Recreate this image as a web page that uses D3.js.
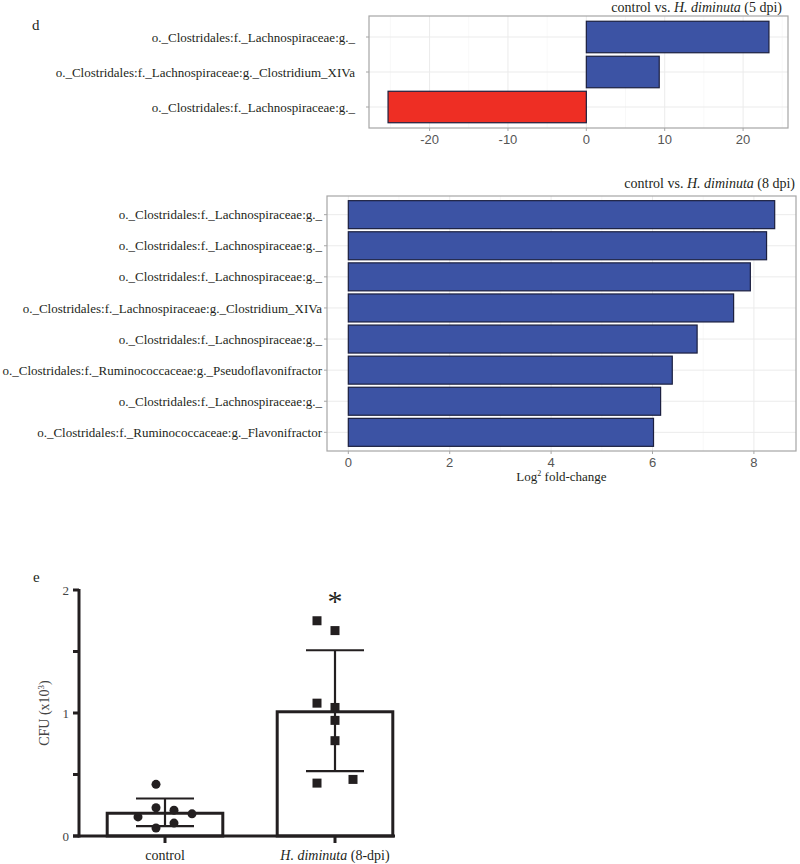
<!DOCTYPE html>
<html>
<head>
<meta charset="utf-8">
<script src="https://cdn.jsdelivr.net/npm/d3@7"></script>
<style>
  body { margin: 0; background: #fff; }
  svg { display: block; }
</style>
</head>
<body>
<svg id="chart" width="800" height="864"></svg>
<script>
// ---------- DATA ----------
const taxa5 = [
  "o._Clostridales:f._Lachnospiraceae:g._",
  "o._Clostridales:f._Lachnospiraceae:g._Clostridium_XIVa",
  "o._Clostridales:f._Lachnospiraceae:g._"
];
const lfc5 = [23.3, 9.3, -25.3];

const taxa8 = [
  "o._Clostridales:f._Lachnospiraceae:g._",
  "o._Clostridales:f._Lachnospiraceae:g._",
  "o._Clostridales:f._Lachnospiraceae:g._",
  "o._Clostridales:f._Lachnospiraceae:g._Clostridium_XIVa",
  "o._Clostridales:f._Lachnospiraceae:g._",
  "o._Clostridales:f._Ruminococcaceae:g._Pseudoflavonifractor",
  "o._Clostridales:f._Lachnospiraceae:g._",
  "o._Clostridales:f._Ruminococcaceae:g._Flavonifractor"
];
const lfc8 = [8.41, 8.25, 7.93, 7.60, 6.88, 6.39, 6.16, 6.02];

const ticks5 = [-20, -10, 0, 10, 20];
const ticks8 = [0, 2, 4, 6, 8];

const groups = ["control", "H. diminuta (8-dpi)"];
const groupMeans = [0.185, 1.01];
const groupSDlow = [0.08, 0.528];
const groupSDhigh = [0.305, 1.51];
const controlCFU = [0.42, 0.23, 0.21, 0.155, 0.18, 0.065, 0.105];
const controlSlot = [-0.5, -0.5, 0.5, -1.5, 1.5, -0.5, 0.5];
const hdimCFU = [1.75, 1.67, 1.08, 1.045, 0.94, 0.775, 0.43, 0.46];
const hdimSlot = [-1, 0, -1, 0, 0, 0, -1, 1];
const cfuTicks = [0, 1, 2];
const cfuMinorTicks = [0.5, 1.5];

// ---------- STYLE ----------
const svg = d3.select("#chart");
const serif = "'Liberation Serif', 'Times New Roman', serif";
const sans = "'Liberation Sans', Arial, sans-serif";
const blue = "#3c53a4";
const red = "#ee2e24";
const barStroke = "#1b1f3f";
const gridCol = "#ebebeb";
const borderCol = "#a6a6a6";
const tickTextCol = "#555";
const textCol = "#231f20";

function lfcPanel(opts) {
  const { taxa, values, ticks, left, right, top, bottom, title, titleX, titleY, labelGap, xlabel } = opts;
  const g = svg.append("g");
  const ext = d3.extent([0, ...values]);
  const pad = (ext[1] - ext[0]) * 0.05;
  const x = d3.scaleLinear().domain([ext[0] - pad, ext[1] + pad]).range([left, right]);
  const n = taxa.length;
  const y = d3.scaleLinear().domain([0.4, n + 0.6]).range([top, bottom]);

  // minor grid
  const minor = [];
  const step = ticks[1] - ticks[0];
  for (let v = ticks[0] - step / 2; v <= x.domain()[1]; v += step) {
    if (v >= x.domain()[0]) minor.push(v);
  }
  g.selectAll(".minor").data(minor).enter().append("line")
    .attr("x1", d => x(d)).attr("x2", d => x(d))
    .attr("y1", top).attr("y2", bottom)
    .attr("stroke", "#f3f3f3").attr("stroke-width", 0.6);
  g.selectAll(".major").data(ticks).enter().append("line")
    .attr("x1", d => x(d)).attr("x2", d => x(d))
    .attr("y1", top).attr("y2", bottom)
    .attr("stroke", gridCol).attr("stroke-width", 1);
  g.selectAll(".hgrid").data(taxa).enter().append("line")
    .attr("x1", left).attr("x2", right)
    .attr("y1", (d, i) => y(i + 1)).attr("y2", (d, i) => y(i + 1))
    .attr("stroke", gridCol).attr("stroke-width", 1);

  // bars
  g.selectAll(".bar").data(values).enter().append("rect")
    .attr("x", d => Math.min(x(0), x(d)))
    .attr("width", d => Math.abs(x(d) - x(0)))
    .attr("y", (d, i) => y(i + 1 - 0.45))
    .attr("height", y(1.45) - y(0.55))
    .attr("fill", d => d >= 0 ? blue : red)
    .attr("stroke", barStroke).attr("stroke-width", 1.2);

  // border
  g.append("rect").attr("x", left).attr("y", top)
    .attr("width", right - left).attr("height", bottom - top)
    .attr("fill", "none").attr("stroke", borderCol).attr("stroke-width", 1.2);

  // x axis ticks & labels
  g.selectAll(".xt").data(ticks).enter().append("line")
    .attr("x1", d => x(d)).attr("x2", d => x(d))
    .attr("y1", bottom).attr("y2", bottom + 3)
    .attr("stroke", borderCol).attr("stroke-width", 1);
  g.selectAll(".xl").data(ticks).enter().append("text")
    .attr("x", d => x(d)).attr("y", bottom + 16)
    .attr("text-anchor", "middle")
    .attr("font-family", sans).attr("font-size", 13)
    .attr("fill", tickTextCol)
    .text(d => d);

  // y ticks & labels
  g.selectAll(".yt").data(taxa).enter().append("line")
    .attr("x1", left - 3).attr("x2", left)
    .attr("y1", (d, i) => y(i + 1)).attr("y2", (d, i) => y(i + 1))
    .attr("stroke", borderCol).attr("stroke-width", 1);
  g.selectAll(".yl").data(taxa).enter().append("text")
    .attr("x", left - labelGap).attr("y", (d, i) => y(i + 1))
    .attr("dy", "0.35em")
    .attr("text-anchor", "end")
    .attr("font-family", serif).attr("font-size", 13)
    .attr("fill", textCol)
    .text(d => d);

  // title
  const t = g.append("text").attr("x", titleX).attr("y", titleY)
    .attr("text-anchor", "end")
    .attr("font-family", serif).attr("font-size", 14).attr("fill", textCol);
  t.append("tspan").text("control vs. ");
  t.append("tspan").attr("font-style", "italic").text("H. diminuta");
  t.append("tspan").text(title);

  if (xlabel) {
    const xl = g.append("text").attr("x", (left + right) / 2).attr("y", bottom + 30)
      .attr("text-anchor", "middle")
      .attr("font-family", serif).attr("font-size", 13).attr("fill", textCol);
    xl.append("tspan").text("Log");
    xl.append("tspan").attr("font-size", 8).attr("dy", -5).text("2");
    xl.append("tspan").attr("dy", 5).text(" fold-change");
  }
}

// panel label d
svg.append("text").attr("x", 32).attr("y", 30)
  .attr("font-family", serif).attr("font-size", 15).attr("fill", textCol).text("d");

lfcPanel({ taxa: taxa5, values: lfc5, ticks: ticks5, left: 369, right: 788, top: 16, bottom: 128,
  title: " (5 dpi)", titleX: 782, titleY: 12, labelGap: 14 });
lfcPanel({ taxa: taxa8, values: lfc8, ticks: ticks8, left: 327, right: 796, top: 196, bottom: 451,
  title: " (8 dpi)", titleX: 795, titleY: 188, labelGap: 5, xlabel: true });

// ---------- Panel e ----------
svg.append("text").attr("x", 33).attr("y", 582)
  .attr("font-family", serif).attr("font-size", 15).attr("fill", textCol).text("e");

const ye = d3.scaleLinear().domain([0, 2]).range([836, 590]);
const xe = d3.scaleBand().domain(groups).range([80, 420]);
const barW = xe.bandwidth() * 0.68;
const slotW = 18;
const ge = svg.append("g");
const axisCol = "#231f20";

// bars
ge.selectAll(".cbar").data(groupMeans).enter().append("rect")
  .attr("x", (d, i) => xe(groups[i]) + xe.bandwidth() / 2 - barW / 2)
  .attr("y", d => ye(d))
  .attr("width", barW)
  .attr("height", d => ye(0) - ye(d))
  .attr("fill", "#fff").attr("stroke", axisCol).attr("stroke-width", 3);

// points
ge.selectAll(".cpt").data(controlCFU).enter().append("circle")
  .attr("cx", (d, i) => xe(groups[0]) + xe.bandwidth() / 2 + controlSlot[i] * slotW)
  .attr("cy", d => ye(d))
  .attr("r", 4.5).attr("fill", axisCol);
ge.selectAll(".hpt").data(hdimCFU).enter().append("rect")
  .attr("x", (d, i) => xe(groups[1]) + xe.bandwidth() / 2 + hdimSlot[i] * slotW - 4.5)
  .attr("y", d => ye(d) - 4.5)
  .attr("width", 9).attr("height", 9).attr("fill", axisCol);

// error bars
groups.forEach((gname, i) => {
  const cx = xe(gname) + xe.bandwidth() / 2;
  ge.append("line").attr("x1", cx).attr("x2", cx)
    .attr("y1", ye(groupSDlow[i])).attr("y2", ye(groupSDhigh[i]))
    .attr("stroke", axisCol).attr("stroke-width", 2.2);
  [groupSDlow[i], groupSDhigh[i]].forEach(v => {
    ge.append("line").attr("x1", cx - 29).attr("x2", cx + 29)
      .attr("y1", ye(v)).attr("y2", ye(v))
      .attr("stroke", axisCol).attr("stroke-width", 2.2);
  });
});

// axes
ge.append("line").attr("x1", 79).attr("x2", 79).attr("y1", ye(2) - 1).attr("y2", ye(0) + 1.5)
  .attr("stroke", axisCol).attr("stroke-width", 3);
ge.append("line").attr("x1", 73).attr("x2", 395).attr("y1", ye(0)).attr("y2", ye(0))
  .attr("stroke", axisCol).attr("stroke-width", 3);
ge.selectAll(".ytk").data(cfuTicks.concat(cfuMinorTicks)).enter().append("line")
  .attr("x1", 73).attr("x2", 79).attr("y1", d => ye(d)).attr("y2", d => ye(d))
  .attr("stroke", axisCol).attr("stroke-width", 3);
ge.selectAll(".ytl").data(cfuTicks).enter().append("text")
  .attr("x", 69).attr("y", d => ye(d)).attr("dy", "0.35em")
  .attr("text-anchor", "end").attr("font-family", serif).attr("font-size", 13)
  .attr("fill", "#444").text(d => d);
ge.selectAll(".xtk").data(groups).enter().append("line")
  .attr("x1", d => xe(d) + xe.bandwidth() / 2).attr("x2", d => xe(d) + xe.bandwidth() / 2)
  .attr("y1", ye(0)).attr("y2", ye(0) + 7)
  .attr("stroke", axisCol).attr("stroke-width", 3);

// x labels
ge.append("text").attr("x", xe(groups[0]) + xe.bandwidth() / 2).attr("y", 860)
  .attr("text-anchor", "middle").attr("font-family", serif).attr("font-size", 14)
  .attr("fill", textCol).text(groups[0]);
const hl = ge.append("text").attr("x", xe(groups[1]) + xe.bandwidth() / 2).attr("y", 860)
  .attr("text-anchor", "middle").attr("font-family", serif).attr("font-size", 14)
  .attr("fill", textCol);
hl.append("tspan").attr("font-style", "italic").text("H. diminuta");
hl.append("tspan").text(" (8-dpi)");

// y label
const yl = ge.append("text")
  .attr("transform", "translate(49,713) rotate(-90)")
  .attr("text-anchor", "middle").attr("font-family", serif).attr("font-size", 14)
  .attr("fill", "#444");
yl.append("tspan").text("CFU (x10");
yl.append("tspan").attr("font-size", 9).attr("dy", -5).text("3");
yl.append("tspan").attr("dy", 5).text(")");

// asterisk
ge.append("text").attr("x", xe(groups[1]) + xe.bandwidth() / 2).attr("y", 611)
  .attr("text-anchor", "middle").attr("font-family", serif).attr("font-size", 30)
  .attr("fill", textCol).text("*");
</script>
</body>
</html>
